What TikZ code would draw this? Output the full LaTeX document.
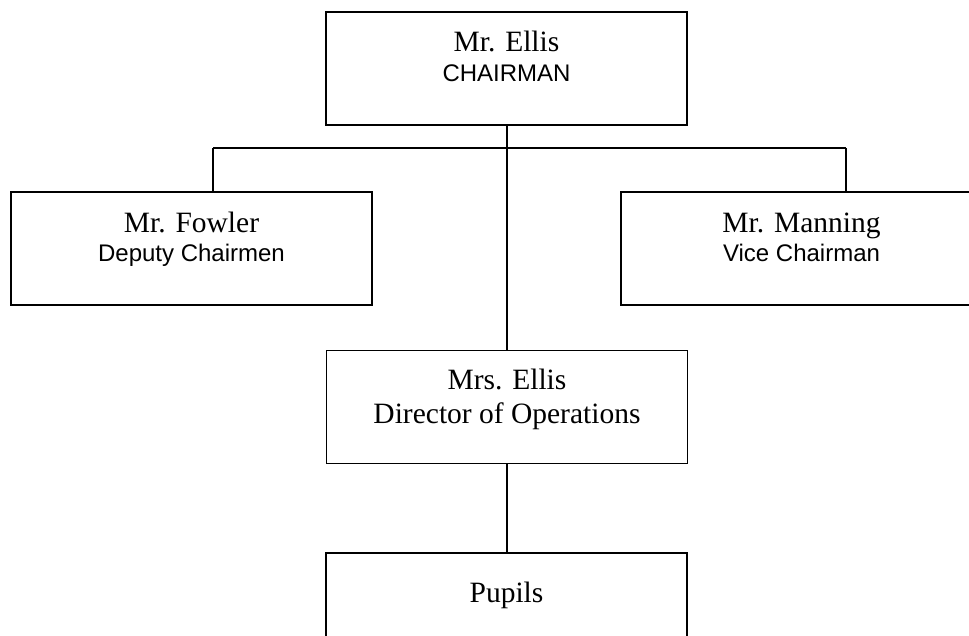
\documentclass[tikz,border=0pt]{standalone}
\usepackage{fontspec}
\setmainfont{Liberation Serif}
\setsansfont{Liberation Sans}

\tikzset{
  post/.style={draw, line width=1.5pt, minimum width=361pt, minimum height=113pt, inner sep=0pt},
  who/.style={anchor=base, inner sep=0pt, font=\fontsize{29.5}{34}\selectfont},
  role/.style={anchor=base, inner sep=0pt, font=\sffamily\fontsize{24}{28}\selectfont},
  link/.style={line width=1.5pt}
}

\begin{document}
\begin{tikzpicture}[x=1pt, y=-1pt]
  \useasboundingbox (0,0) rectangle (969,636);
  \clip (0,0) rectangle (969,636);

  \node[post] (chair) at (506.5,68.5) {};
  \node[post] (deputy) at (191.5,248.5) {};
  \node[post] (vice) at (801.5,248.5) {};
  \node[post] (director) at (507,407) {};
  \node[post] (pupils) at (506.5,609.5) {};

  \coordinate (split) at (507,148);
  \coordinate (splitL) at (213,148);
  \coordinate (splitR) at (846,148);
  \draw[link] (chair.south -| split) -- (director.north -| split);
  \draw[link] (splitL) -- (splitR);
  \draw[link] (splitL) -- (splitL |- deputy.north);
  \draw[link] (splitR) -- (splitR |- vice.north);
  \draw[link] (director.south -| split) -- (pupils.north -| split);

  \node[who] (chairName) at ([yshift=-40pt]chair.north) {Mr. Ellis};
  \node[role] (chairRole) at ([yshift=-70pt]chair.north) {CHAIRMAN};
  \node[who] (deputyName) at ([yshift=-41pt]deputy.north) {Mr. Fowler};
  \node[role] (deputyRole) at ([yshift=-70pt]deputy.north) {Deputy Chairmen};
  \node[who] (viceName) at ([yshift=-41pt]vice.north) {Mr. Manning};
  \node[role] (viceRole) at ([yshift=-70pt]vice.north) {Vice Chairman};
  \node[who] (directorName) at ([yshift=-40pt]director.north) {Mrs. Ellis};
  \node[who] (directorRole) at ([yshift=-74pt]director.north) {Director of Operations};
  \node[who] (pupilsName) at ([yshift=-50pt]pupils.north) {Pupils};
\end{tikzpicture}
\end{document}
